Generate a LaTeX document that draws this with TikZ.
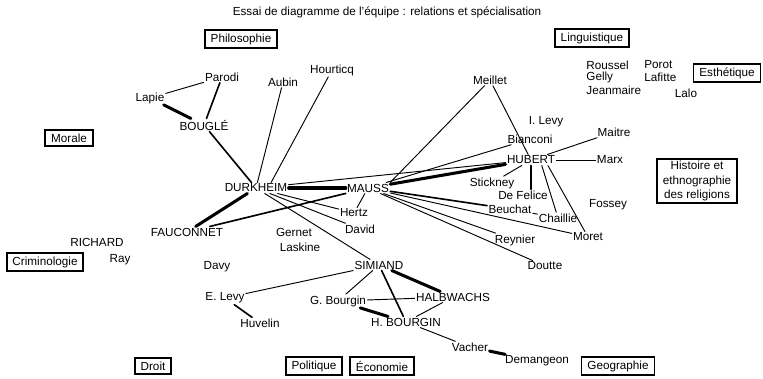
\documentclass[tikz,border=0pt]{standalone}
\usepackage{fontspec}
\setmainfont{Liberation Sans}
\usepackage{tikz}
\tikzset{
	field/.style  = {draw, line width=1.6pt, inner xsep=5pt, inner ysep=3pt},
	who/.style    = {inner sep=1pt},
	tie/.style    = {line width=0.8pt},
	bond/.style   = {line width=1.4pt},
	strong/.style = {line width=2.6pt}
}

\begin{document}
\begin{tikzpicture}[x=0.03cm, y=-0.03cm, line cap=round]
	\useasboundingbox (0,0) rectangle (763,378);
	\draw
	node at (387,12) [who] (title) {Essai de diagramme de l'équipe : relations et spécialisation};

	% domaines
	\draw
	node at (241,39) [field] (phil) {Philosophie}
	node at (592,38) [field] (ling) {Linguistique}
	node at (727,73) [field] (esth) {Esthétique}
	node at (69,138) [field] (mora) {Morale}
	node at (697,181) [field, align=center, inner ysep=2pt] (hist) {Histoire et\\ethnographie\\des religions}
	node at (45,262) [field] (crim) {Criminologie}
	node at (153,366) [field] (droi) {Droit}
	node at (314,366) [field] (poli) {Politique}
	node at (382,366) [field] (econ) {Économie}
	node at (618,366) [field] (geog) {Geographie};

	% personnes
	\draw
	node at (222,77) [who] (paro) {Parodi}
	node at (150,98) [who] (lapi) {Lapie}
	node at (204,125) [who] (boug) {BOUGLÉ}
	node at (283,82) [who] (aubi) {Aubin}
	node at (332,70) [who] (hour) {Hourticq}
	node at (256,188) [who] (durk) {DURKHEIM}
	node at (368,188) [who] (maus) {MAUSS}
	node at (490,80) [who] (meil) {Meillet}
	node at (546,122) [who] (ilev) {I. Levy}
	node at (530,139) [who] (bian) {Bianconi}
	node at (531,160) [who] (hube) {HUBERT}
	node at (614,132) [who] (mait) {Maitre}
	node at (610,160) [who] (marx) {Marx}
	node at (492,183) [who] (stic) {Stickney}
	node at (523,195) [who] (feli) {De Felice}
	node at (510,209) [who] (beuc) {Beuchat}
	node at (558,218) [who] (chai) {Chaillie}
	node at (588,237) [who] (more) {Moret}
	node at (515,240) [who] (reyn) {Reynier}
	node at (608,205) [who] (foss) {Fossey}
	node at (545,266) [who] (dout) {Doutte}
	node at (354,213) [who] (hert) {Hertz}
	node at (360,229) [who] (davi) {David}
	node at (294,232) [who] (gern) {Gernet}
	node at (300,247) [who] (lask) {Laskine}
	node at (187,232) [who] (fauc) {FAUCONNET}
	node at (97,242) [who] (rich) {RICHARD}
	node at (120,260) [who] (ray) {Ray}
	node at (217,267) [who] (davy) {Davy}
	node at (379,265) [who] (simi) {SIMIAND}
	node at (225,298) [who] (elev) {E. Levy}
	node at (260,323) [who] (huve) {Huvelin}
	node at (338,301) [who] (gbou) {G. Bourgin}
	node at (453,297) [who] (halb) {HALBWACHS}
	node at (406,322) [who] (hbou) {H. BOURGIN}
	node at (470,347) [who] (vach) {Vacher}
	node at (537,361) [who] (dema) {Demangeon}
	node at (585,65) [who, anchor=west] (rous) {Roussel}
	node at (585,77) [who, anchor=west] (gell) {Gelly}
	node at (585,90) [who, anchor=west] (jean) {Jeanmaire}
	node at (643,65) [who, anchor=west] (poro) {Porot}
	node at (643,77) [who, anchor=west] (lafi) {Lafitte}
	node at (686,93) [who] (lalo) {Lalo};

	% liens
	\draw[tie](lapi) -- (paro);
	\draw[strong](lapi) -- (boug);
	\draw[bond](paro) -- (boug);
	\draw[bond](boug) -- (durk);
	\draw[tie](aubi) -- (durk);
	\draw[tie](hour) -- (durk.20);
	\draw[strong](durk) -- (maus);
	\draw[tie](durk) -- (hube);
	\draw[strong](durk) -- (fauc);
	\draw[bond](fauc) -- (maus);
	\draw[tie](durk) -- (hert);
	\draw[tie](durk) -- (davi);
	\draw[tie](durk) -- (simi);
	\draw[tie](meil) -- (maus.north east);
	\draw[tie](meil) -- (hube);
	\draw[strong](maus) -- (hube);
	\draw[tie](maus) -- (bian);
	\draw[tie](maus) -- (hert);
	\draw[bond](maus) -- (beuc);
	\draw[tie](maus) -- (more);
	\draw[tie](maus) -- (reyn);
	\draw[tie](maus) -- (dout);
	\draw[tie](beuc) -- (chai);
	\draw[tie](hube) -- (mait);
	\draw[tie](hube) -- (marx);
	\draw[tie](hube) -- (stic);
	\draw[bond](hube.south) -- (hube.south |- feli.north);
	\draw[tie](hube.-27) -- (chai);
	\draw[tie](hube.-18) -- (more);
	\draw[tie](simi) -- (elev);
	\draw[bond](elev) -- (huve);
	\draw[tie](simi) -- (gbou);
	\draw[bond](simi) -- (hbou);
	\draw[strong](simi) -- (halb);
	\draw[tie](gbou) -- (halb);
	\draw[strong](gbou) -- (hbou);
	\draw[tie](halb) -- (hbou);
	\draw[tie](hbou) -- (vach);
	\draw[strong](vach) -- (dema);
\end{tikzpicture}
\end{document}
